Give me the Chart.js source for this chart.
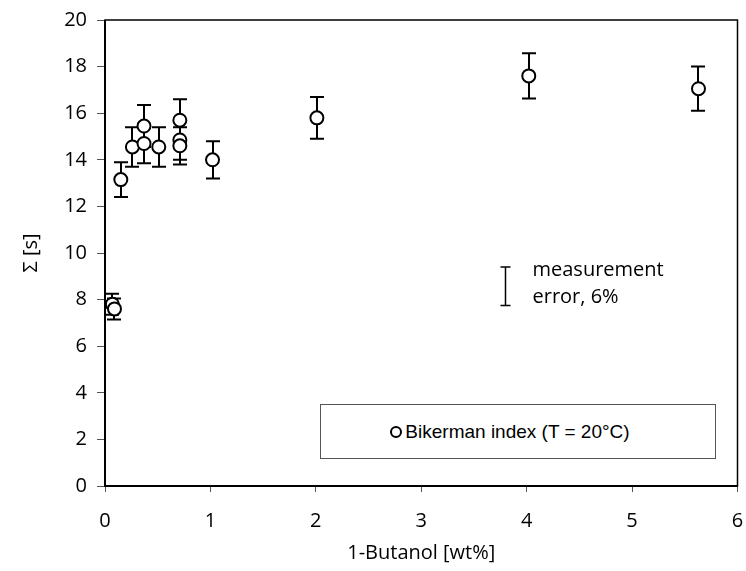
<!DOCTYPE html>
<html>
<head>
<meta charset="utf-8">
<script src="https://cdn.jsdelivr.net/npm/chart.js@4"></script>
<style>
  html, body { margin: 0; padding: 0; background: #fff; }
  #wrap { position: relative; width: 746px; height: 571px; }
  #legend-box {
    position: absolute; left: 320px; top: 404px; width: 396px; height: 55px;
    border: 1px solid #555; background: #fff; box-sizing: border-box;
    display: flex; align-items: center; justify-content: center; padding-right: 16px;
    font: 19px "Liberation Sans", Arial, sans-serif; color: #000;
  }
  #legend-box .dot {
    width: 8px; height: 8px; border: 2px solid #000; border-radius: 50%;
    margin-right: 3px;
  }
</style>
</head>
<body>
<div id="wrap">
  <canvas id="chart" width="746" height="571"></canvas>
  <div id="legend-box"><span class="dot"></span>Bikerman index (T = 20°C)</div>
</div>
<script>
// values
const butanolWt = [0.07, 0.09, 0.15, 0.26, 0.37, 0.37, 0.51, 0.71, 0.71, 0.71, 1.02, 2.01, 4.02, 5.63];
const bikerman  = [7.8, 7.6, 13.15, 14.55, 15.45, 14.7, 14.55, 15.7, 14.85, 14.6, 14.0, 15.8, 17.6, 17.05];
const bikermanErr = [0.45, 0.45, 0.75, 0.85, 0.9, 0.85, 0.85, 0.9, 0.85, 0.8, 0.8, 0.9, 0.97, 0.95];

const xTicks = [0, 1, 2, 3, 4, 5, 6];
const yTicks = [0, 2, 4, 6, 8, 10, 12, 14, 16, 18, 20];

// standalone "measurement error" bar: x, y bottom, y top
const noteBar = [3.79, 7.75, 9.4];
const noteLines = ["measurement", "error, 6%"];

const axisFont = { family: "'Open Sans', Lato, sans-serif", size: 20 };

const errorBars = {
  id: "errorBars",
  beforeDatasetsDraw(chart) {
    const { ctx, scales: { x, y } } = chart;
    ctx.save();
    ctx.strokeStyle = "#000";
    ctx.lineWidth = 2;
    butanolWt.forEach((bx, i) => {
      const px = Math.round(x.getPixelForValue(bx));
      const top = y.getPixelForValue(bikerman[i] + bikermanErr[i]);
      const bot = y.getPixelForValue(bikerman[i] - bikermanErr[i]);
      ctx.beginPath();
      ctx.moveTo(px, top); ctx.lineTo(px, bot);
      ctx.moveTo(px - 7, top); ctx.lineTo(px + 7, top);
      ctx.moveTo(px - 7, bot); ctx.lineTo(px + 7, bot);
      ctx.stroke();
    });
    // measurement error note
    const nx = Math.round(x.getPixelForValue(noteBar[0])) + 0.5;
    const nb = y.getPixelForValue(noteBar[1]);
    const nt = y.getPixelForValue(noteBar[2]);
    ctx.lineWidth = 1.5;
    ctx.beginPath();
    ctx.moveTo(nx, nt); ctx.lineTo(nx, nb);
    ctx.moveTo(nx - 5, nt); ctx.lineTo(nx + 5, nt);
    ctx.moveTo(nx - 5, nb); ctx.lineTo(nx + 5, nb);
    ctx.stroke();
    ctx.fillStyle = "#000";
    ctx.font = `${axisFont.size}px ${axisFont.family}`;
    ctx.textBaseline = "middle";
    ctx.fillText(noteLines[0], nx + 27, nt + 3);
    ctx.fillText(noteLines[1], nx + 27, nt + 30);
    ctx.restore();
  },
  afterDraw(chart) {
    const { ctx, chartArea: a } = chart;
    ctx.save();
    ctx.strokeStyle = "#000";
    ctx.lineWidth = 1.5;
    ctx.strokeRect(a.left, a.top, a.right - a.left, a.bottom - a.top);
    ctx.lineWidth = 2;
    ctx.beginPath();
    ctx.moveTo(a.left, a.top); ctx.lineTo(a.left, a.bottom); ctx.lineTo(a.right, a.bottom);
    ctx.stroke();
    ctx.restore();
  },
};

new Chart(document.getElementById("chart"), {
  type: "scatter",
  data: {
    datasets: [{
      label: "Bikerman index (T = 20°C)",
      data: butanolWt.map((bx, i) => ({ x: bx, y: bikerman[i] })),
      pointRadius: 6.5,
      pointBackgroundColor: "#fff",
      pointBorderColor: "#000",
      pointBorderWidth: 2,
    }],
  },
  options: {
    responsive: false,
    animation: false,
    layout: { padding: { top: 20, right: 5, left: 0, bottom: 0 } },
    plugins: { legend: { display: false }, tooltip: { enabled: false } },
    scales: {
      x: {
        type: "linear", min: 0, max: 6,
        afterBuildTicks: (s) => { s.ticks = xTicks.map((v) => ({ value: v })); },
        afterFit: (s) => { s.height = 85; s.paddingRight = 0; s.paddingLeft = 0; },
        ticks: { color: "#000", font: axisFont, padding: 17, maxRotation: 0 },
        grid: { drawOnChartArea: false, drawTicks: true, tickLength: 6, color: "#555", lineWidth: 1 },
        border: { display: false },
        title: { display: true, text: "1-Butanol [wt%]", color: "#000", font: axisFont, padding: { top: 0, bottom: 6 } },
      },
      y: {
        type: "linear", min: 0, max: 20,
        afterBuildTicks: (s) => { s.ticks = yTicks.map((v) => ({ value: v })); },
        afterFit: (s) => { s.width = 105; s.paddingTop = 0; s.paddingBottom = 0; },
        ticks: { color: "#000", font: axisFont, padding: 10 },
        grid: { drawOnChartArea: false, drawTicks: true, tickLength: 8, color: "#555", lineWidth: 1 },
        border: { display: false },
        title: { display: true, text: "Σ [s]", color: "#000", font: axisFont, padding: { top: 19, bottom: 0 } },
      },
    },
  },
  plugins: [errorBars],
});
</script>
</body>
</html>
